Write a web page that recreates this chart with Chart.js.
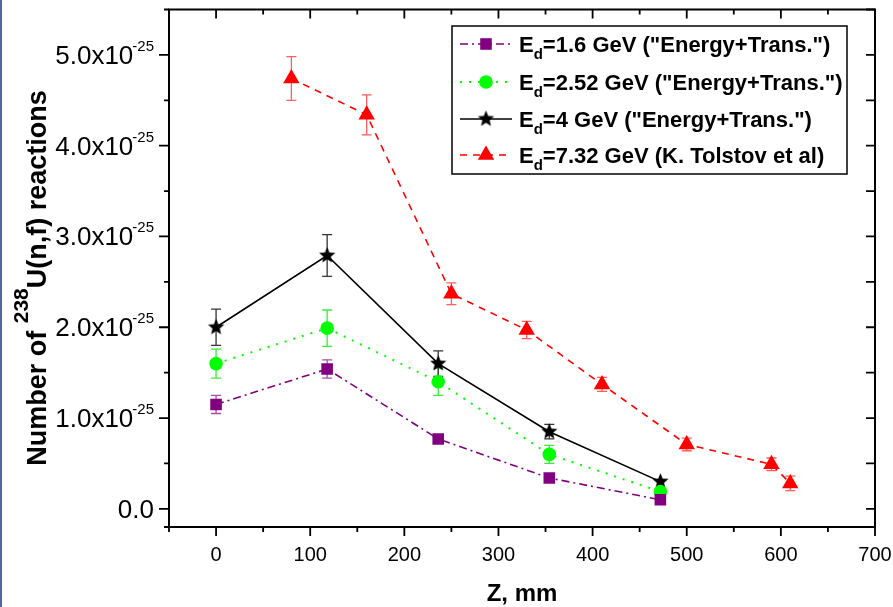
<!DOCTYPE html>
<html>
<head>
<meta charset="utf-8">
<title>238U(n,f) reactions along Z</title>
<script src="https://cdn.jsdelivr.net/npm/chart.js@4.4.1/dist/chart.umd.min.js"></script>
<style>
  html, body { margin: 0; padding: 0; background: #fff; }
  #wrap { position: relative; width: 893px; height: 607px; }
  #edge { position: absolute; left: 0; top: 0; width: 2px; height: 607px; background: #4a6b9c; }
</style>
</head>
<body>
<div id="wrap">
  <canvas id="fissionChart" width="893" height="607"></canvas>
  <div id="edge"></div>
</div>
<script>
// Reaction numbers are in units of 1e-25, Z in mm
const zCalc = [0, 118, 236, 354, 472];
const n16 = [1.15, 1.54, 0.77, 0.34, 0.10];
const err16 = [0.10, 0.10, 0, 0, 0];
const n252 = [1.60, 1.99, 1.40, 0.60, 0.19];
const err252 = [0.16, 0.20, 0.15, 0.10, 0];
const n4 = [2.00, 2.79, 1.60, 0.85, 0.30];
const err4 = [0.20, 0.23, 0.14, 0.08, 0];

const zTolstov = [80, 160, 250, 330, 410, 500, 590, 610];
const n732 = [4.74, 4.34, 2.37, 1.97, 1.37, 0.71, 0.49, 0.28];
const err732 = [0.24, 0.22, 0.12, 0.095, 0.077, 0.07, 0.07, 0.08];

const legendTexts = [
    '=1.6 GeV ("Energy+Trans.")',
    '=2.52 GeV ("Energy+Trans.")',
    '=4 GeV ("Energy+Trans.")',
    '=7.32 GeV (K. Tolstov et al)'
];
const yExponent = '-25';
const xTitle = 'Z, mm';

const FONT = '"Liberation Sans", Arial, sans-serif';

function makeStar(r, color) {
    const c = document.createElement('canvas');
    const s = Math.ceil(r * 2) + 2;
    c.width = c.height = s;
    const g = c.getContext('2d');
    g.fillStyle = color;
    g.beginPath();
    for (let i = 0; i < 10; i++) {
        const rad = i % 2 === 0 ? r : r * 0.45;
        const a = -Math.PI / 2 + i * Math.PI / 5;
        const px = s / 2 + rad * Math.cos(a);
        const py = s / 2 + rad * Math.sin(a);
        if (i === 0) g.moveTo(px, py); else g.lineTo(px, py);
    }
    g.closePath();
    g.fill();
    return c;
}

const starImg = makeStar(8.5, '#000');

function points(xs, ys) {
    return xs.map((x, i) => ({ x: x, y: ys[i] }));
}

const datasets = [
    {
        data: points(zCalc, n16), errors: err16, errorColor: 'rgba(128,0,128,0.7)',
        borderColor: '#800080', backgroundColor: '#800080', borderWidth: 1.6,
        borderDash: [8, 4, 2, 4], pointStyle: 'rect', pointRadius: 8.2
    },
    {
        data: points(zCalc, n252), errors: err252, errorColor: 'rgba(0,235,0,0.8)',
        borderColor: '#00ff00', backgroundColor: '#00ff00', borderWidth: 2,
        borderDash: [2, 7], pointStyle: 'circle', pointRadius: 6.8
    },
    {
        data: points(zCalc, n4), errors: err4, errorColor: '#333',
        borderColor: '#000', backgroundColor: '#000', borderWidth: 1.6,
        pointStyle: starImg, pointRadius: 9
    },
    {
        data: points(zTolstov, n732), errors: err732, errorColor: 'rgba(255,40,40,0.75)',
        borderColor: '#ff0000', backgroundColor: '#ff0000', borderWidth: 1.6,
        borderDash: [7, 6], pointStyle: 'triangle', pointRadius: 9.5
    }
];

// legend marker, drawn the same way as the points
function drawMarker(ctx, ds, x, y) {
    ctx.save();
    ctx.fillStyle = ds.backgroundColor;
    const r = ds.pointRadius;
    ctx.beginPath();
    if (ds.pointStyle === 'rect') {
        const s = Math.SQRT1_2 * r;
        ctx.rect(x - s, y - s, 2 * s, 2 * s);
    } else if (ds.pointStyle === 'circle') {
        ctx.arc(x, y, r, 0, Math.PI * 2);
    } else if (ds.pointStyle === 'triangle') {
        for (let i = 0; i < 3; i++) {
            const a = -Math.PI / 2 + i * 2 * Math.PI / 3;
            const px = x + r * Math.cos(a), py = y + r * Math.sin(a);
            if (i === 0) ctx.moveTo(px, py); else ctx.lineTo(px, py);
        }
        ctx.closePath();
    } else {
        ctx.drawImage(ds.pointStyle, x - starImg.width / 2, y - starImg.height / 2);
    }
    ctx.fill();
    ctx.restore();
}

const errorBars = {
    id: 'errorBars',
    beforeDatasetsDraw(chart) {
        const { ctx, scales: { x, y } } = chart;
        chart.data.datasets.forEach(ds => {
            ctx.save();
            ctx.strokeStyle = ds.errorColor;
            ctx.lineWidth = 1.3;
            ds.data.forEach((p, i) => {
                const e = ds.errors[i];
                if (!e) return;
                const px = x.getPixelForValue(p.x);
                const top = y.getPixelForValue(p.y + e);
                const bot = y.getPixelForValue(p.y - e);
                ctx.beginPath();
                ctx.moveTo(px, top); ctx.lineTo(px, bot);
                ctx.moveTo(px - 5, top); ctx.lineTo(px + 5, top);
                ctx.moveTo(px - 5, bot); ctx.lineTo(px + 5, bot);
                ctx.stroke();
            });
            ctx.restore();
        });
    }
};

const frame = {
    id: 'frame',
    afterDraw(chart) {
        const { ctx, chartArea: a, scales: { x, y } } = chart;
        ctx.save();
        ctx.strokeStyle = '#000';
        ctx.fillStyle = '#000';

        // ticks: outward on left/bottom, inward on top/right
        ctx.lineWidth = 1.8;
        ctx.beginPath();
        x.ticks.forEach(t => {
            const px = x.getPixelForValue(t.value);
            const major = t.value % 100 === 0;
            const len = major ? 9 : 5;
            ctx.moveTo(px, a.bottom); ctx.lineTo(px, a.bottom + len);
            ctx.moveTo(px, a.top); ctx.lineTo(px, a.top + len);
        });
        y.ticks.forEach(t => {
            const py = y.getPixelForValue(t.value);
            const major = Math.abs(t.value % 1) < 1e-9;
            ctx.moveTo(a.left, py); ctx.lineTo(a.left - (major ? 10 : 5), py);
            ctx.moveTo(a.right, py); ctx.lineTo(a.right - 9, py);
        });
        ctx.stroke();

        ctx.lineWidth = 2;
        ctx.strokeRect(a.left, a.top, a.right - a.left, a.bottom - a.top);

        // x tick labels
        ctx.font = '20px ' + FONT;
        ctx.textAlign = 'center';
        ctx.textBaseline = 'alphabetic';
        x.ticks.forEach(t => {
            if (t.value % 100 !== 0) return;
            ctx.fillText(String(t.value), x.getPixelForValue(t.value), 561);
        });

        // y tick labels with power of ten
        y.ticks.forEach(t => {
            if (Math.abs(t.value % 1) > 1e-9 || t.value < 0) return;
            const py = y.getPixelForValue(t.value);
            const right = 154;
            if (t.value === 0) {
                ctx.font = '26px ' + FONT;
                ctx.textAlign = 'right';
                ctx.fillText('0.0', right, py + 9);
                return;
            }
            ctx.font = '15px ' + FONT;
            const w = ctx.measureText(yExponent).width;
            ctx.textAlign = 'left';
            ctx.fillText(yExponent, right - w, py - 4);
            ctx.font = '26px ' + FONT;
            ctx.textAlign = 'right';
            ctx.fillText(t.value.toFixed(1) + 'x10', right - w + 1, py + 9);
        });

        // x title
        ctx.font = 'bold 24px ' + FONT;
        ctx.textAlign = 'center';
        ctx.fillText(xTitle, (a.left + a.right) / 2, 601);

        // y title, rotated
        ctx.save();
        ctx.translate(46, 278);
        ctx.rotate(-Math.PI / 2);
        ctx.textAlign = 'left';
        const mainFont = 'bold 27px ' + FONT, supFont = 'bold 21px ' + FONT;
        ctx.font = mainFont;
        const p1 = 'Number of ', p3 = 'U(n,f) reactions';
        const w1 = ctx.measureText(p1).width, w3 = ctx.measureText(p3).width;
        ctx.font = supFont;
        const w2 = ctx.measureText('238').width;
        let cx = -(w1 + w2 + w3) / 2;
        ctx.font = mainFont;
        ctx.fillText(p1, cx, 0);
        cx += w1;
        ctx.font = supFont;
        ctx.fillText('238', cx, -18);
        cx += w2;
        ctx.font = mainFont;
        ctx.fillText(p3, cx, 0);
        ctx.restore();

        // legend box
        const lx = 452, ly = 26, lw = 395, lh = 148;
        ctx.fillStyle = '#fff';
        ctx.fillRect(lx, ly, lw, lh);
        ctx.lineWidth = 1.5;
        ctx.strokeStyle = '#000';
        ctx.strokeRect(lx, ly, lw, lh);
        const rows = [44, 82, 119, 155];
        chart.data.datasets.forEach((ds, i) => {
            const ry = rows[i];
            ctx.save();
            ctx.strokeStyle = ds.borderColor;
            ctx.lineWidth = ds.borderWidth;
            ctx.setLineDash(ds.borderDash || []);
            ctx.beginPath();
            ctx.moveTo(460, ry); ctx.lineTo(512, ry);
            ctx.stroke();
            ctx.restore();
            drawMarker(ctx, ds, 486, ry);

            ctx.fillStyle = '#000';
            ctx.textAlign = 'left';
            ctx.font = 'bold 22px ' + FONT;
            ctx.fillText('E', 519, ry + 8);
            const we = ctx.measureText('E').width;
            ctx.font = 'bold 15px ' + FONT;
            ctx.fillText('d', 519 + we, ry + 15);
            const wd = ctx.measureText('d').width;
            ctx.font = 'bold 22px ' + FONT;
            ctx.fillText(legendTexts[i], 519 + we + wd, ry + 8);
        });
        ctx.restore();
    }
};

new Chart(document.getElementById('fissionChart'), {
    type: 'scatter',
    data: {
        datasets: datasets.map(d => Object.assign({ showLine: true, pointBorderWidth: 0, pointHoverRadius: d.pointRadius }, d))
    },
    options: {
        responsive: false,
        animation: false,
        layout: { padding: { left: 169, top: 7, right: 18, bottom: 80 } },
        plugins: { legend: { display: false }, tooltip: { enabled: false } },
        scales: {
            x: { type: 'linear', min: -50, max: 700, ticks: { stepSize: 50 }, display: false },
            y: { type: 'linear', min: -0.2, max: 5.5, ticks: { stepSize: 0.5 }, display: false }
        }
    },
    plugins: [errorBars, frame]
});
</script>
</body>
</html>
